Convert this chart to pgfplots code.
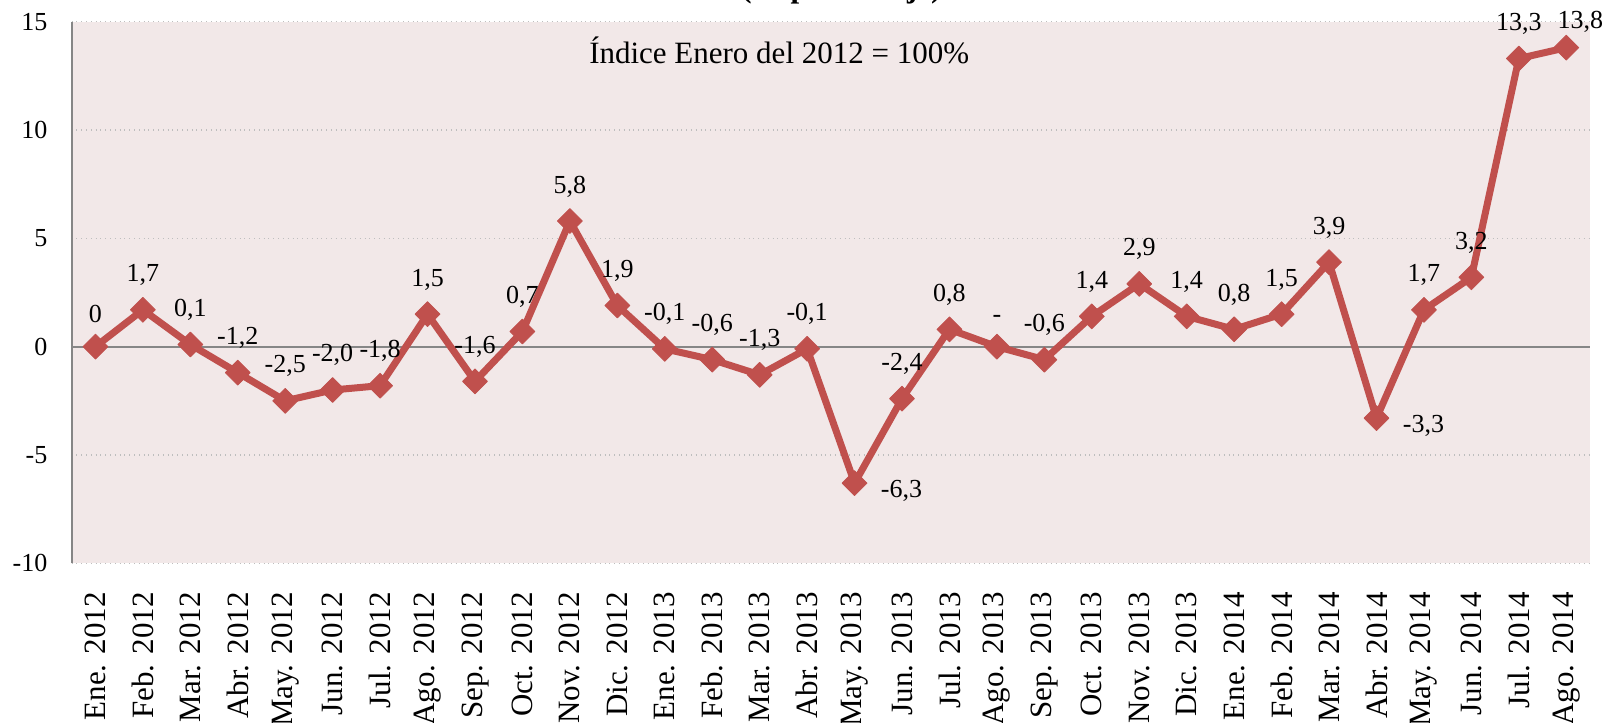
\documentclass[border=0pt]{standalone}
\usepackage{pgfplots}
\pgfplotsset{compat=1.18}
\usepackage{pgfplotstable}
\usepackage{fontspec}
\setmainfont{Liberation Serif}
\definecolor{serred}{RGB}{192,80,77}
\definecolor{bgpink}{RGB}{242,232,232}
\definecolor{axgray}{RGB}{134,134,134}
\definecolor{gridgray}{RGB}{190,190,190}

\pgfplotstableread{
x y
0 0
1 1.7
2 0.1
3 -1.2
4 -2.5
5 -2.0
6 -1.8
7 1.5
8 -1.6
9 0.7
10 5.8
11 1.9
12 -0.1
13 -0.6
14 -1.3
15 -0.1
16 -6.3
17 -2.4
18 0.8
19 0
20 -0.6
21 1.4
22 2.9
23 1.4
24 0.8
25 1.5
26 3.9
27 -3.3
28 1.7
29 3.2
30 13.3
31 13.8
}\serie

\pgfplotstableread{
x y lab
0 0 0
1 1.7 1,7
2 0.1 0,1
3 -1.2 -1,2
4 -2.5 -2,5
5 -2.0 -2,0
6 -1.8 -1,8
7 1.5 1,5
8 -1.6 -1,6
9 0.7 0,7
10 5.8 5,8
11 1.9 1,9
12 -0.1 -0,1
13 -0.6 -0,6
14 -1.3 -1,3
15 -0.1 -0,1
17 -2.4 -2,4
18 0.8 0,8
19 0 -
20 -0.6 -0,6
21 1.4 1,4
22 2.9 2,9
23 1.4 1,4
24 0.8 0,8
25 1.5 1,5
26 3.9 3,9
28 1.7 1,7
29 3.2 3,2
30 13.3 13,3
}\labup

\pgfplotstableread{
x y lab
31 13.8 13,8
}\labtop

\pgfplotstableread{
x y lab
16 -6.3 -6,3
27 -3.3 -3,3
}\labright

\begin{document}
\fontsize{13pt}{16pt}\selectfont
\begin{tikzpicture}
\begin{axis}[
  at={(0,0)}, anchor=south west,
  scale only axis,
  width=759.15pt, height=270.8pt,
  xmin=-0.5, xmax=31.5, ymin=-10, ymax=15,
  clip=false,
  axis background/.style={fill=bgpink},
  axis lines*=left,
  x axis line style={draw=none},
  y axis line style={draw=axgray, line width=1pt},
  major tick length=0pt,
  xtick={0,...,31},
  xticklabels={Ene. 2012,Feb. 2012,Mar. 2012,Abr. 2012,May. 2012,Jun. 2012,Jul. 2012,Ago. 2012,Sep. 2012,Oct. 2012,Nov. 2012,Dic. 2012,Ene. 2013,Feb. 2013,Mar. 2013,Abr. 2013,May. 2013,Jun. 2013,Jul. 2013,Ago. 2013,Sep. 2013,Oct. 2013,Nov. 2013,Dic. 2013,Ene. 2014,Feb. 2014,Mar. 2014,Abr. 2014,May. 2014,Jun. 2014,Jul. 2014,Ago. 2014},
  xticklabel style={rotate=90, anchor=east, inner sep=0pt, font=\fontsize{15.5pt}{18pt}\selectfont},
  xticklabel shift=14.2pt,
  ytick={-10,-5,5,10,15},
  yticklabels={-10,-5,5,10,15},
  yticklabel style={inner sep=0pt, anchor=east},
  yticklabel shift=12pt,
  extra y ticks={0},
  extra y tick labels={0},
  extra y tick style={ymajorgrids=true, major grid style={solid, draw=axgray, line width=1pt}},
  ymajorgrids=true,
  major grid style={dotted, draw=gridgray, line width=0.6pt},
  /pgf/number format/assume math mode=true,
]
\addplot[serred, line width=3.5pt, line join=round, mark=square*, mark size=4.4pt,
  mark options={solid, rotate=45, line width=0.4pt, fill=serred, draw=serred}]
  table[x=x, y=y] {\serie};
\addplot[draw=none, mark=none, point meta=explicit symbolic,
  nodes near coords, nodes near coords style={anchor=south, inner sep=0pt, yshift=11.8pt, text=black}]
  table[x=x, y=y, meta=lab] {\labup};
\addplot[draw=none, mark=none, point meta=explicit symbolic,
  nodes near coords, nodes near coords style={anchor=south, inner sep=0pt, yshift=7.5pt, xshift=7pt, text=black}]
  table[x=x, y=y, meta=lab] {\labtop};
\addplot[draw=none, mark=none, point meta=explicit symbolic,
  nodes near coords, nodes near coords style={anchor=west, inner sep=0pt, xshift=13pt, yshift=-4pt, text=black}]
  table[x=x, y=y, meta=lab] {\labright};
\node[anchor=base, font=\fontsize{15.5pt}{18pt}\selectfont] at (rel axis cs:0.466,0.9237) {Índice Enero del 2012 = 100\%};
\node[anchor=base, font=\fontsize{15.5pt}{18pt}\selectfont\bfseries, yshift=12.2pt] at (rel axis cs:0.507,1) {(en porcentaje)};
\end{axis}
\pgfresetboundingbox
\useasboundingbox (-35.85pt,-79.85pt) rectangle (768.15pt,281.65pt);
\end{tikzpicture}
\end{document}
